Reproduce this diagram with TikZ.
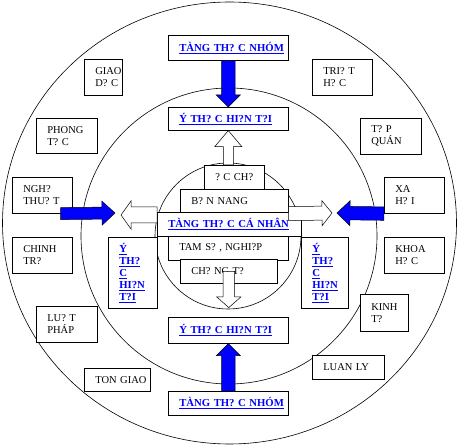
\documentclass[tikz,border=0pt]{standalone}
\usepackage{fontspec}
\setmainfont{Liberation Serif}
\usetikzlibrary{calc}

\definecolor{linkblue}{RGB}{0,0,255}

\tikzset{
  box/.style={draw, fill=white, anchor=north west, inner xsep=11pt, inner ysep=0pt,
    align=left, font=\fontsize{10.5}{12}\selectfont},
  title/.style={box, text=linkblue, font=\fontsize{10.7}{12}\selectfont\bfseries},
  bluearrow/.style={draw=black, fill=linkblue, line width=0.5pt},
  whitearrow/.style={draw=black, fill=white, line width=0.5pt},
}

% block arrow: [style]{from}{to}{half shaft}{half head}{head length}
\newcommand{\blockarrow}[6][]{%
  \draw[#1] let \p1=(#2), \p2=(#3),
      \n1={veclen(\x2-\x1,\y2-\y1)}, \n2={atan2(\y2-\y1,\x2-\x1)} in
    {[shift={(\p1)}, rotate=\n2]
      (0pt,-#4pt) -- ({\n1-#6pt},-#4pt) -- ({\n1-#6pt},-#5pt) -- (\n1,0pt)
      -- ({\n1-#6pt},#5pt) -- ({\n1-#6pt},#4pt) -- (0pt,#4pt) -- cycle};
}
\newcommand{\ul}[1]{\underline{#1}}

\begin{document}
\begin{tikzpicture}[x=1pt, y=-1pt, line width=0.6pt]
\useasboundingbox (0,0) rectangle (458,446);

% the three rings
\draw (229.5,223) ellipse [x radius=227, y radius=221];
\draw (229,236) circle [radius=148];
\draw (228,236) circle [radius=73];

% outer ring
\node[box, text width=16pt, minimum height=36pt] (edu) at (84,59) {GIAO\\D?~C};
\node[box, text width=39pt, minimum height=35pt] (custom) at (36,118) {PHONG\\T?~C};
\node[box, text width=38pt, minimum height=36pt] (phil) at (312,59) {TRI?~T\\H?~C};
\node[box, text width=39pt, minimum height=36pt] (habit) at (360,118) {T?~P\\QUÁN};
\node[box, text width=38pt, minimum height=36pt] (art) at (12,177) {NGH?\\THU?~T};
\node[box, text width=38pt, minimum height=36pt] (pol) at (12,237) {CHINH\\TR?};
\node[box, text width=38pt, minimum height=36pt] (soc) at (384,177) {XA\\H?~I};
\node[box, text width=38pt, minimum height=36pt] (sci) at (384,237) {KHOA\\H?~C};
\node[box, text width=39pt, minimum height=36pt] (law) at (36,306) {LU?~T\\PHÁP};
\node[box, text width=44pt, minimum height=23pt] (relig) at (84,368) {TON~GIAO};
\node[box, text width=26pt, minimum height=37pt] (econ) at (360,294) {KINH\\T?};
\node[box, text width=50pt, minimum height=24pt] (ethic) at (312,355) {LUAN~LY};

% group level, top and bottom
\node[title, text width=98pt, minimum height=25pt] (grpT) at (168,35) {\ul{TÀNG~TH?~C~NHÓM}};
\node[title, text width=98pt, minimum height=23pt] (nowT) at (168,107) {\ul{Ý~TH?~C~HI?N~T?I}};
\node[title, text width=98pt, minimum height=26pt] (nowB) at (168,317) {\ul{Ý~TH?~C~HI?N~T?I}};
\node[title, text width=98pt, minimum height=24pt] (grpB) at (168,391) {\ul{TÀNG~TH?~C~NHÓM}};

% sides
\node[title, text width=27pt, minimum height=71pt] (nowL) at (108,237)
  {\ul{Ý}\\\ul{TH?}\\\ul{C}\\\ul{HI?N}\\\ul{T?I}};
\node[title, text width=25pt, minimum height=71pt] (nowR) at (301,237)
  {\ul{Ý}\\\ul{TH?}\\\ul{C}\\\ul{HI?N}\\\ul{T?I}};

% individual level
\node[box, text width=38pt, minimum height=24pt] (purpose) at (204,165) {?~C~CH?};
\node[box, text width=86pt, minimum height=23pt] (skill) at (180,189) {B?~N~NANG};
\node[title, text width=122pt, minimum height=24pt] (indiv) at (157,212) {\ul{TÀNG~TH?~C~CÁ~NHÂN}};
\node[box, text width=98pt, minimum height=24pt] (mind) at (168,236) {TAM~S?~,~NGHI?P};
\node[box, text width=75pt, minimum height=24pt] (ideal) at (180,259) {CH?~NG~T?};

% arrow ends
\coordinate (artout) at ($(art.south east)+(-12,0)$);
\coordinate (artin) at (115,213);
\coordinate (indivL) at ($(indiv.north west)+(0,3)$);
\coordinate (leftout) at (121,215);
\coordinate (indivR) at ($(skill.south east)+(0,1)$);
\coordinate (rightout) at (332,213);
\coordinate (socin) at (337,213);
\coordinate (idealtip) at ($(ideal.south)+(0,24)$);

% white arrows
\blockarrow[whitearrow]{nowT.south |- purpose.north}{nowT.south}{5}{13.5}{16}
\blockarrow[whitearrow]{ideal.center}{idealtip}{5.8}{12}{10.6}
\blockarrow[whitearrow]{indivL}{leftout}{8}{14}{10}
\blockarrow[whitearrow]{indivR}{rightout}{7}{12.5}{10}

% blue arrows
\blockarrow[bluearrow]{grpT.south}{nowT.north}{6.7}{12}{12}
\blockarrow[bluearrow]{grpB.north}{nowB.south}{6.7}{12}{12}
\blockarrow[bluearrow]{artout}{artin}{6}{12}{13}
\blockarrow[bluearrow]{soc.south west}{socin}{6.7}{12.5}{13}

\end{tikzpicture}
\end{document}
